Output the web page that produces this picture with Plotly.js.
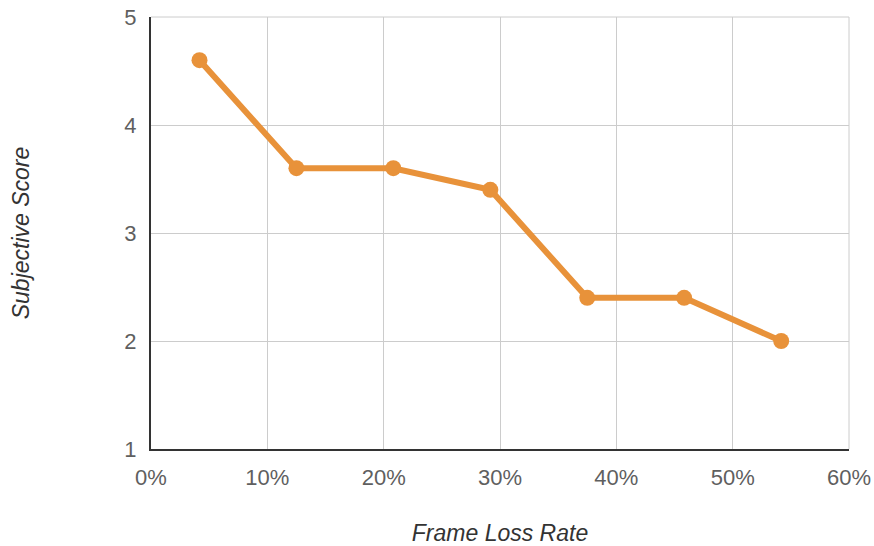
<!DOCTYPE html>
<html>
<head>
<meta charset="utf-8">
<script src="https://cdn.plot.ly/plotly-3.0.1.min.js"></script>
<style>html,body{margin:0;padding:0;background:#fff;}#chart{width:874px;height:546px;}</style>
</head>
<body>
<div id="chart"></div>
<script>
var frameLossRate = [4.17, 12.5, 20.83, 29.17, 37.5, 45.83, 54.17];
var subjectiveScore = [4.6, 3.6, 3.6, 3.4, 2.4, 2.4, 2.0];
var xTickVals = [0, 10, 20, 30, 40, 50, 60];
var yTickVals = [1, 2, 3, 4, 5];

var trace = {
  x: frameLossRate,
  y: subjectiveScore,
  type: 'scatter',
  mode: 'lines+markers',
  line: {color: '#E8923A', width: 6},
  marker: {color: '#E8923A', size: 16},
  cliponaxis: false,
  hoverinfo: 'none'
};

var fam = '"Liberation Sans", Arial, sans-serif';

var layout = {
  width: 874,
  height: 546,
  margin: {l: 151, r: 25, t: 17, b: 97},
  paper_bgcolor: '#fff',
  plot_bgcolor: '#fff',
  showlegend: false,
  font: {family: fam, color: '#444', size: 23},
  xaxis: {
    range: [0, 60],
    tickvals: xTickVals,
    ticktext: xTickVals.map(function(v){return v + '%';}),
    showgrid: true,
    gridcolor: '#cccccc',
    gridwidth: 1,
    zeroline: false,
    showline: true,
    linecolor: '#333',
    linewidth: 2,
    ticks: '',
    ticklabelstandoff: 8,
    tickfont: {family: fam, size: 22, color: '#5f5f5f'},
    title: {text: 'Frame Loss Rate', font: {family: fam, size: 23, color: '#333', style: 'italic'}, standoff: 42}
  },
  yaxis: {
    range: [1, 5],
    tickvals: yTickVals,
    showgrid: true,
    gridcolor: '#cccccc',
    gridwidth: 1,
    zeroline: false,
    showline: true,
    linecolor: '#333',
    linewidth: 2,
    ticks: '',
    ticklabelstandoff: 8,
    tickfont: {family: fam, size: 22, color: '#5f5f5f'},
    title: {text: 'Subjective Score', font: {family: fam, size: 23, color: '#333', style: 'italic'}, standoff: 88}
  },
  shapes: [
    {type: 'line', xref: 'paper', yref: 'paper', x0: 1, x1: 1, y0: 0, y1: 1, line: {color: '#cccccc', width: 1}},
    {type: 'line', xref: 'paper', yref: 'paper', x0: 0, x1: 1, y0: 1, y1: 1, line: {color: '#cccccc', width: 1}}
  ]
};

Plotly.newPlot('chart', [trace], layout, {displayModeBar: false, staticPlot: true});
</script>
</body>
</html>
